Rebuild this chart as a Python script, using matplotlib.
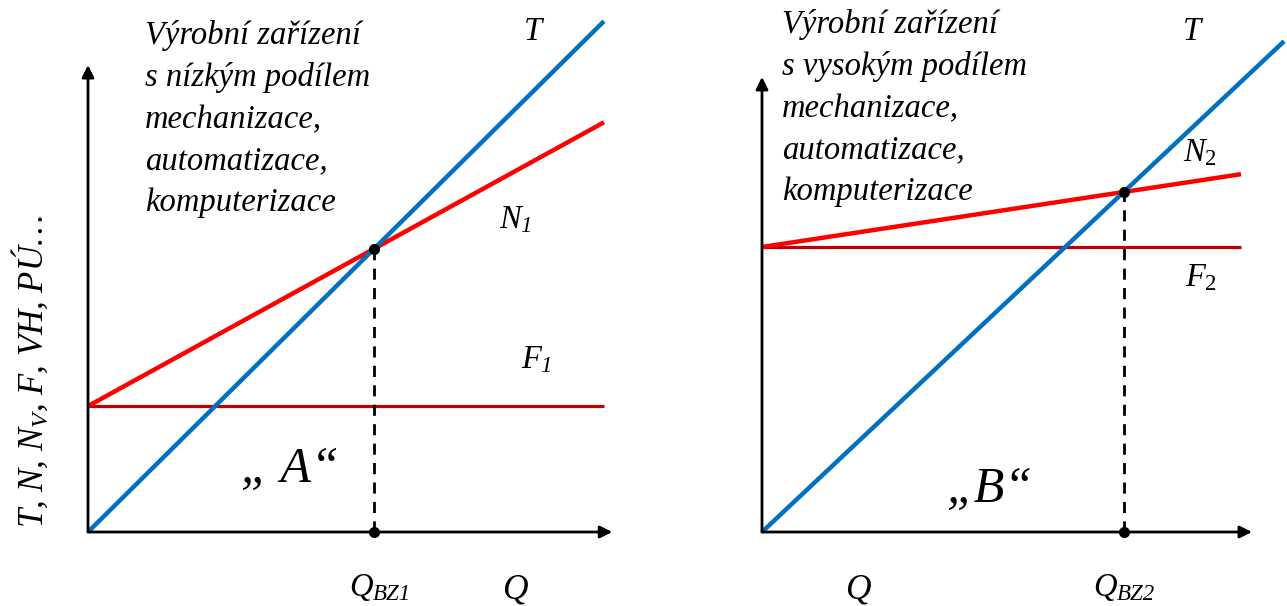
import numpy as np
import matplotlib
matplotlib.use("Agg")
import matplotlib.pyplot as plt

plt.rcParams['font.family'] = ['Liberation Serif', 'DejaVu Serif']
plt.rcParams['mathtext.fontset'] = 'custom'
plt.rcParams['mathtext.it'] = 'Liberation Serif:italic'
plt.rcParams['mathtext.rm'] = 'Liberation Serif'
plt.rcParams['mathtext.bf'] = 'Liberation Serif:bold'

# ---- data (arbitrary units) ----
# Panel A: low share of mechanisation
q_max_A = 10.0
price_A = 0.99      # slope of revenue T
fixed_A = 2.44      # fixed costs F1
var_A = 0.55        # unit variable cost -> N1 = F1 + v*Q
# Panel B: high share of mechanisation
q_max_B = 10.0
q_T_max_B = 10.9
price_B = 0.94
fixed_B = 5.95
var_B = 0.152

text_A = "Výrobní zařízení\ns nízkým podílem\nmechanizace,\nautomatizace,\nkomputerizace"
text_B = "Výrobní zařízení\ns vysokým podílem\nmechanizace,\nautomatizace,\nkomputerizace"
y_label = "T, N, $N_V$, F, VH, PÚ…"

BLUE = '#0070C0'
RED = '#FF0000'
DARKRED = '#C00000'

W, H = 1287, 606
fig = plt.figure(figsize=(W / 100, H / 100), dpi=100)

def make_ax(px_left, px_right, x0, y0, s):
    ax = fig.add_axes([px_left / W, 0, (px_right - px_left) / W, 1])
    ax.set_xlim(-(x0 - px_left) / s, (px_right - x0) / s)
    ax.set_ylim(-(H - y0) / s, y0 / s)
    ax.axis('off')
    conv = lambda px, py: ((px - x0) / s, (y0 - py) / s)
    return ax, conv

def panel(ax, conv, q_max, q_T_max, price, fixed, var, tip_x, tip_y):
    qT = np.array([0, q_T_max])
    q = np.array([0, q_max])
    ax.plot(q, [fixed, fixed], color=DARKRED, lw=2.3, solid_capstyle='butt', zorder=2)
    ax.plot(q, fixed + var * q, color=RED, lw=3.2, solid_capstyle='butt', zorder=3)
    ax.plot(qT, price * qT, color=BLUE, lw=3.2, solid_capstyle='butt', zorder=4)
    # axes with arrows
    ax.annotate('', xy=(tip_x, 0), xytext=(0, 0),
                arrowprops=dict(arrowstyle='-|>', lw=2, color='black',
                                mutation_scale=18, shrinkA=0, shrinkB=0), zorder=5)
    ax.annotate('', xy=(0, tip_y), xytext=(0, 0),
                arrowprops=dict(arrowstyle='-|>', lw=2, color='black',
                                mutation_scale=18, shrinkA=0, shrinkB=0), zorder=5)
    # break-even
    qbz = fixed / (price - var)
    ybz = price * qbz
    ax.plot([qbz, qbz], [0, ybz], color='black', lw=2, ls=(0, (4, 3)), zorder=5)
    ax.plot([qbz, qbz], [ybz, 0], 'o', color='black', ms=7, zorder=6)
    return qbz, ybz

def sub_label(ax, pos, main, sub, fs, italic_sub=True):
    # main letter italic, subscript smaller and lowered
    ax.annotate(main, xy=pos, xycoords='data', fontsize=fs, style='italic',
                ha='right', va='center', xytext=(4, 0), textcoords='offset points')
    ax.annotate(sub, xy=pos, xycoords='data', fontsize=fs * 0.7,
                style='italic' if italic_sub else 'normal',
                ha='left', va='center', xytext=(4, -5), textcoords='offset points')

# Panel A
axA, cA = make_ax(0, 640, 88, 532, 51.6)
panel(axA, cA, q_max_A, q_max_A, price_A, fixed_A, var_A, 10.16, 9.05)
fs = 23.5
axA.text(*cA(145, 20), text_A, fontsize=fs, style='italic', va='top', ha='left', linespacing=1.47)
axA.text(*cA(533, 32), 'T', fontsize=fs, style='italic', ha='center', va='center')
sub_label(axA, cA(515, 220), 'N', '1', fs)
sub_label(axA, cA(535, 360), 'F', '1', fs)
axA.text(*cA(290, 470), '„ A“', fontsize=36, style='italic', ha='center', va='center')
sub_label(axA, cA(367, 588), 'Q', 'BZ1', fs)
axA.text(*cA(515, 590), 'Q', fontsize=fs + 2, style='italic', ha='center', va='center')
axA.text(*cA(30, 372), y_label, fontsize=25, style='italic', rotation=90, ha='center', va='center')

# Panel B
axB, cB = make_ax(640, W, 762, 532, 47.9)
panel(axB, cB, q_max_B, q_T_max_B, price_B, fixed_B, var_B, 10.23, 9.5)
axB.text(*cB(782, 9), text_B, fontsize=fs, style='italic', va='top', ha='left', linespacing=1.47)
axB.text(*cB(1192, 32), 'T', fontsize=fs, style='italic', ha='center', va='center')
sub_label(axB, cB(1199, 153), 'N', '2', fs, italic_sub=False)
sub_label(axB, cB(1199, 278), 'F', '2', fs, italic_sub=False)
axB.text(*cB(990, 490), '„B“', fontsize=36, style='italic', ha='center', va='center')
axB.text(*cB(858, 590), 'Q', fontsize=fs + 2, style='italic', ha='center', va='center')
sub_label(axB, cB(1111, 588), 'Q', 'BZ2', fs)

fig.savefig('out.png', dpi=100)
